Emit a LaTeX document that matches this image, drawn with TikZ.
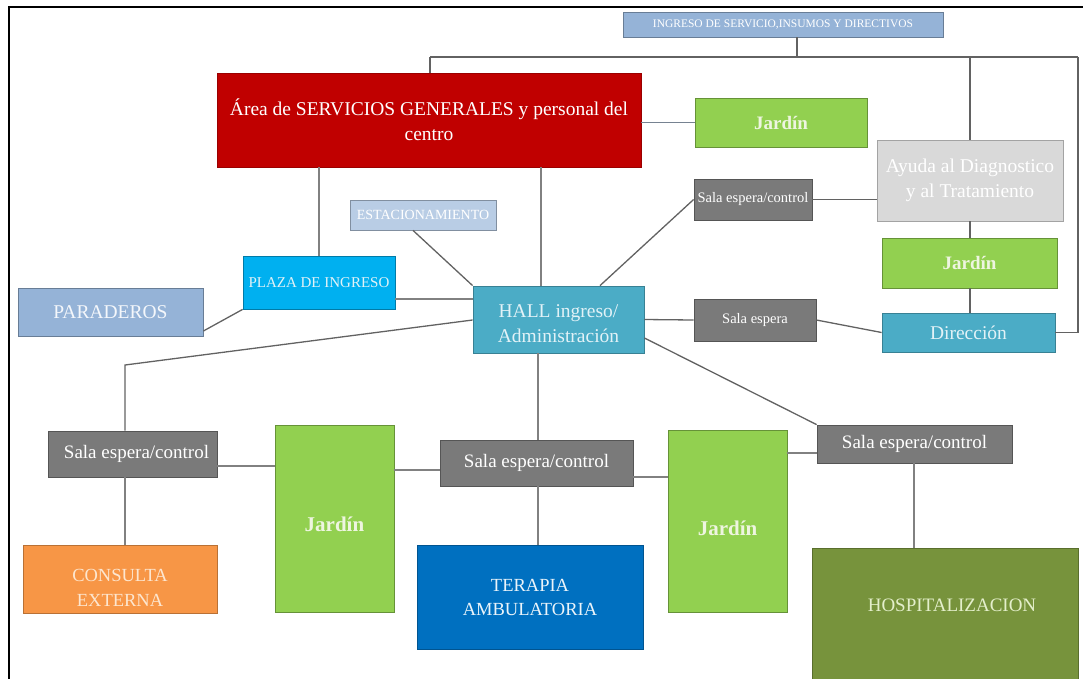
\documentclass[tikz,border=0pt]{standalone}
\usepackage{fontspec}
\setmainfont{Liberation Serif}
\definecolor{ingc}{HTML}{95B3D7}
\definecolor{redc}{HTML}{C00000}
\definecolor{jarc}{HTML}{92D050}
\definecolor{ayc}{HTML}{D9D9D9}
\definecolor{salac}{HTML}{7A7A7A}
\definecolor{dirc}{HTML}{4BACC6}
\definecolor{estc}{HTML}{B9CDE5}
\definecolor{plazac}{HTML}{00B0F0}
\definecolor{consc}{HTML}{F79646}
\definecolor{terc}{HTML}{0070C0}
\definecolor{hospc}{HTML}{77933C}
\definecolor{linec}{HTML}{626262}
\definecolor{jartxt}{HTML}{EEF5E0}
\definecolor{dirtxt}{HTML}{E2F2F7}
\definecolor{constxt}{HTML}{FDE6CF}
\definecolor{hosptxt}{HTML}{E4EFCB}
\newcommand\bnode[7]{\node[bx,#6,minimum width={#4-#2},minimum height={#5-#3}] (#1) at ({(#2+#4)/2},{(#3+#5)/2}) {#7};}
\tikzset{
  bx/.style={rectangle, inner sep=0pt, line width=0.8pt, align=center},
  big/.style={font=\fontsize{19.5}{25}\selectfont},
  small/.style={font=\fontsize{14.5}{17}\selectfont},
  jarbox/.style={fill=jarc, draw=jarc!70!black, text=jartxt, font=\fontsize{19}{24}\selectfont\bfseries},
  jartall/.style={fill=jarc, draw=jarc!70!black},
  jarlab/.style={text=jartxt, font=\fontsize{21}{24}\selectfont\bfseries},
  salabox/.style={fill=salac, draw=salac!70!black, text=white},
  salabig/.style={font=\fontsize{19}{22}\selectfont},
  conn/.style={draw=linec, line width=1.3pt},
  lconn/.style={draw=linec!80!white, line width=1.3pt},
  frame/.style={draw=black, line width=2pt},
}
\begin{document}
\begin{tikzpicture}[x=1pt,y=-1pt]
\useasboundingbox (0,0) rectangle (1083,678);
% frame
\coordinate (fbl) at (9,690);
\coordinate (ftl) at (9,7);
\coordinate (ftr) at (1090,7);
\draw[frame] (fbl) -- (ftl) -- (ftr);

% boxes
\bnode{ing}{623}{12}{943}{37}{fill=ingc, draw=ingc!70!black, text=white, font=\fontsize{11.5}{12}\selectfont}{INGRESO DE SERVICIO,INSUMOS Y DIRECTIVOS}
\bnode{red}{217}{73}{641}{167}{fill=redc, draw=redc!80!black, text=white, big}{Área de SERVICIOS GENERALES y personal del\\centro}
\bnode{jar1}{695}{98}{867}{147}{jarbox}{Jardín}
\bnode{ayuda}{877}{140}{1063}{221}{fill=ayc, draw=ayc!75!black, text=white, big}{Ayuda al Diagnostico\\y al Tratamiento}
\bnode{sc1}{694}{179}{812}{220}{salabox, small}{Sala espera/control}
\bnode{jar2}{882}{238}{1057}{288}{jarbox}{Jardín}
\bnode{dir}{882}{313}{1055}{352}{fill=dirc, draw=dirc!75!black, text=dirtxt, big}{Dirección}
\bnode{se}{694}{299}{816}{341}{salabox, small}{Sala espera}
\bnode{estac}{350}{200}{496}{230}{fill=estc, draw=estc!70!black, text=white, font=\fontsize{14}{15}\selectfont}{ESTACIONAMIENTO}
\bnode{plaza}{243}{256}{395}{309}{fill=plazac, draw=plazac!70!black, text=dirtxt, font=\fontsize{15}{17}\selectfont}{PLAZA DE INGRESO}
\bnode{parad}{18}{288}{203}{336}{fill=ingc, draw=ingc!70!black, text=white!90!ingc, big}{PARADEROS}
\bnode{hall}{473}{286}{644}{353}{fill=dirc, draw=dirc!75!black, label={[text=dirtxt, big, align=center, yshift=-4pt]center:{HALL ingreso/\\Administración}}}{}
\bnode{sala1}{48}{431}{217}{477}{salabox, salabig}{\hspace{8pt}Sala espera/control}
\bnode{cons}{23}{545}{217}{613}{fill=consc, draw=consc!75!black, label={[text=constxt, font=\fontsize{18.5}{25}\selectfont, align=center, yshift=-9pt]center:{CONSULTA\\EXTERNA}}}{}
\bnode{jar3}{275}{425}{394}{612}{jartall, label={[jarlab, yshift=-6pt]center:Jardín}}{}
\bnode{sala2}{440}{440}{633}{486}{salabox, salabig}{Sala espera/control}
\bnode{ter}{417}{545}{643}{649}{fill=terc, draw=terc!75!black, text=white!92!terc, font=\fontsize{18.5}{24}\selectfont}{TERAPIA\\AMBULATORIA}
\bnode{jar4}{668}{430}{787}{612}{jartall, label={[jarlab, yshift=-7pt]center:Jardín}}{}
\bnode{sala3}{817}{425}{1012}{463}{salabox, salabig}{Sala espera/control}
\bnode{hosp}{812}{548}{1078}{700}{fill=hospc, draw=hospc!75!black, label={[text=hosptxt, font=\fontsize{19}{22}\selectfont, xshift=7pt, yshift=19pt]center:HOSPITALIZACION}}{}

% bus coordinates
\coordinate (bL) at (430,57);
\coordinate (bI) at (797,57);
\coordinate (bA) at (970,57);
\coordinate (bR) at (1078,57);

% connectors
\draw[conn] (bI |- ing.south) -- (bI);
\draw[conn] (bL) -- (bR);
\draw[conn] (bL) -- (bL |- red.north);
\draw[conn] (bA) -- (bA |- ayuda.north);
\draw[conn] (bR) -- (bR |- dir.east) -- (dir.east);
\draw[conn, draw=linec!60!ingc] (jar1.west) -- (jar1.west -| red.east);
\draw[lconn] (plaza.north) -- (plaza.north |- red.south);
\coordinate (hv) at (541,0);
\draw[lconn] (hv |- red.south) -- (hv |- hall.north);
\coordinate (ev) at (413,0);
\draw[conn] (ev |- estac.south) -- (hall.north west);
\coordinate (ph) at (0,299);
\draw[lconn] (plaza.east |- ph) -- (hall.west |- ph);
\coordinate (pd) at (0,331);
\draw[conn] (parad.east |- pd) -- (plaza.south west);
\coordinate (hl) at (0,320);
\coordinate (ct) at (125,365);
\draw[conn] (hall.west |- hl) -- (ct) -- (ct |- sala1.north);
\draw[lconn] (ct |- sala1.south) -- (ct |- cons.north);
\coordinate (s1j) at (0,466);
\draw[lconn] (sala1.east |- s1j) -- (jar3.west |- s1j);
\coordinate (j3s) at (0,470);
\draw[lconn] (jar3.east |- j3s) -- (sala2.west |- j3s);
\coordinate (hs) at (538,0);
\draw[lconn] (hs |- hall.south) -- (hs |- sala2.north);
\draw[lconn] (hs |- sala2.south) -- (hs |- ter.north);
\coordinate (s2j) at (0,477);
\draw[lconn] (sala2.east |- s2j) -- (jar4.west |- s2j);
\coordinate (j4s) at (0,453);
\draw[lconn] (jar4.east |- j4s) -- (sala3.west |- j4s);
\coordinate (hd) at (0,338);
\draw[conn] (hall.east |- hd) -- (sala3.north west);
\draw[conn] (hall.east) -- (se.west);
\draw[conn] (se.east) -- (dir.west);
\coordinate (ht) at (600,0);
\draw[conn] (ht |- hall.north) -- (sc1.west);
\draw[conn] (sc1.east) -- (sc1.east -| ayuda.west);
\draw[conn] (bA |- ayuda.south) -- (bA |- jar2.north);
\draw[conn] (bA |- jar2.south) -- (bA |- dir.north);
\coordinate (sh) at (914,0);
\draw[lconn] (sh |- sala3.south) -- (sh |- hosp.north);
\end{tikzpicture}
\end{document}
